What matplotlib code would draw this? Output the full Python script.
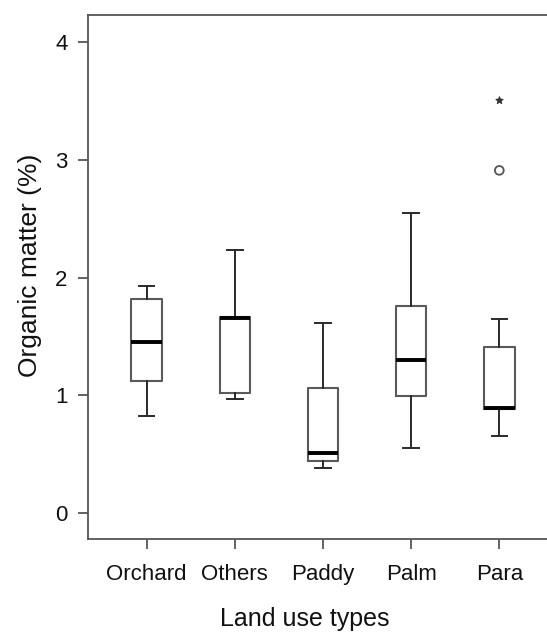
import matplotlib
matplotlib.use("Agg")
import matplotlib.pyplot as plt

plt.rcParams['font.family'] = ['Liberation Sans', 'DejaVu Sans']

# values
land_use = ['Orchard', 'Others', 'Paddy', 'Palm', 'Para']
whis_low = [0.82, 0.97, 0.38, 0.555, 0.65]
q1 = [1.12, 1.02, 0.44, 0.99, 0.88]
median = [1.45, 1.655, 0.51, 1.30, 0.89]
q3 = [1.82, 1.665, 1.06, 1.76, 1.41]
whis_high = [1.93, 2.23, 1.61, 2.55, 1.65]

# outliers (Para): mild shown as circle, extreme as star
outlier_pos = [5]
outlier_mild = [2.91]
extreme_pos = [5]
outlier_extreme = [3.51]

stats = []
for i in range(len(land_use)):
    stats.append({'label': land_use[i], 'whislo': whis_low[i], 'q1': q1[i],
                  'med': median[i], 'q3': q3[i], 'whishi': whis_high[i],
                  'fliers': []})

fig = plt.figure(figsize=(5.47, 6.4), dpi=100)
ax = fig.add_axes([0.1614, 0.158, 0.8386, 0.8186])

ax.bxp(stats, positions=range(1, 6), widths=0.347, showfliers=False,
       boxprops=dict(color='#5a5a5a', linewidth=1.5),
       medianprops=dict(color='black', linewidth=2.8),
       whiskerprops=dict(color='#2a2a2a', linewidth=1.4),
       capprops=dict(color='#2a2a2a', linewidth=1.4),
       capwidths=0.175)

ax.scatter(outlier_pos, outlier_mild, s=40, facecolors='none',
           edgecolors='#555555', linewidths=1.3, zorder=3)
ax.scatter(extreme_pos, outlier_extreme, s=25, marker='*', color='#333333',
           zorder=3)

ax.set_xlim(0.3375, 5.541)
ax.set_ylim(-0.22, 4.23)
ax.set_yticks([0, 1, 2, 3, 4])
ax.set_xticks(range(1, 6))
ax.set_xticklabels(land_use)

for side in ['left', 'bottom', 'top']:
    ax.spines[side].set_color('#555555')
    ax.spines[side].set_linewidth(1.3)
ax.spines['right'].set_visible(False)

ax.tick_params(axis='both', direction='out', length=7, width=1.3,
               color='#555555', labelsize=16, labelcolor='#111111')
ax.tick_params(axis='x', pad=11)
ax.tick_params(axis='y', pad=8)

ax.set_xlabel('Land use types', fontsize=18, color='#111111')
ax.xaxis.set_label_coords(0.472, -0.13)
ax.set_ylabel('Organic matter (%)', fontsize=19, color='#111111')
ax.yaxis.set_label_coords(-0.10, 0.523)

fig.savefig('out.png', dpi=100)
